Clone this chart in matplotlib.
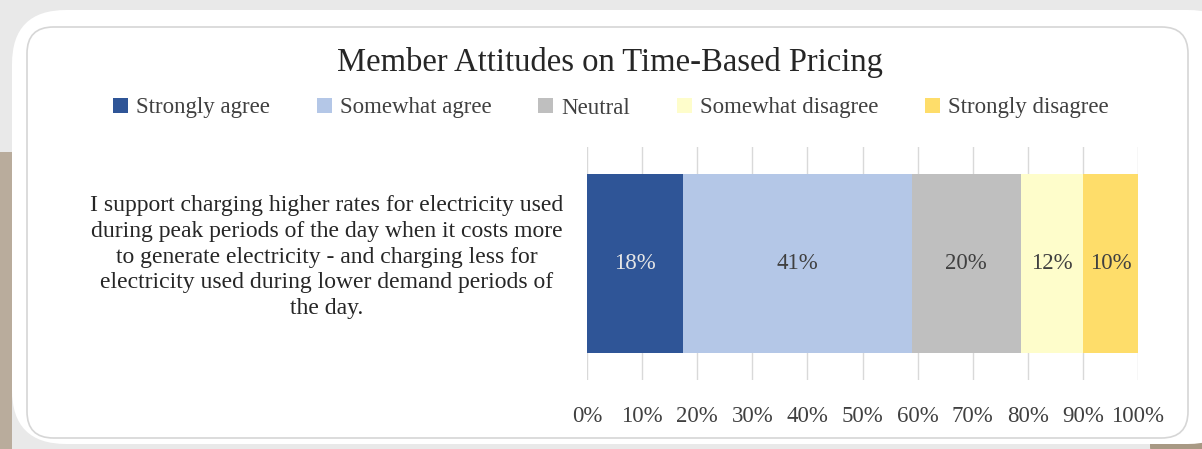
import matplotlib.pyplot as plt
from matplotlib.patches import FancyBboxPatch, Rectangle, Ellipse

plt.rcParams['font.family'] = ['Liberation Serif', 'DejaVu Serif']

title = "Member Attitudes on Time-Based Pricing"
question = ("I support charging higher rates for electricity used\n"
            "during peak periods of the day when it costs more\n"
            "to generate electricity - and charging less for\n"
            "electricity used during lower demand periods of\n"
            "the day.")
categories = ["Strongly agree", "Somewhat agree", "Neutral",
              "Somewhat disagree", "Strongly disagree"]
values = [17.5, 41.4, 19.8, 11.4, 9.9]
pct_labels = ["18%", "41%", "20%", "12%", "10%"]
colors = ["#2F5597", "#B4C7E7", "#BFBFBF", "#FEFDCB", "#FEDD6A"]
label_colors = ["#E6E6E6", "#404040", "#404040", "#404040", "#404040"]
xticks = list(range(0, 101, 10))

W, H = 1202, 449
fig = plt.figure(figsize=(W / 100, H / 100), dpi=100)
fig.patch.set_facecolor("#E9E9E9")


def fx(px):
    return px / W


def fy(py):
    return 1 - py / H


# decorative frame behind the chart
fig.patches.append(Rectangle((0, 0), fx(12), fy(152), transform=fig.transFigure,
                             facecolor="#B9AC9C", edgecolor="none", zorder=0))
fig.patches.append(Ellipse((fx(1200), fy(445)), fx(100), 0.22, transform=fig.transFigure,
                           facecolor="#A89984", edgecolor="none", zorder=0))
fig.patches.append(FancyBboxPatch((fx(12), fy(444)), fx(1230), fy(10) - fy(444),
                                  boxstyle="round,pad=0,rounding_size=0.045",
                                  mutation_aspect=W / H,
                                  transform=fig.transFigure, facecolor="white",
                                  edgecolor="none", zorder=1))
fig.patches.append(FancyBboxPatch((fx(27), fy(438)), fx(1161), fy(27) - fy(438),
                                  boxstyle="round,pad=0,rounding_size=0.022",
                                  mutation_aspect=W / H,
                                  transform=fig.transFigure, facecolor="none",
                                  edgecolor="#D6D6D6", linewidth=1.2, zorder=2))

ax = fig.add_axes([fx(587), fy(380), fx(1138) - fx(587), fy(147) - fy(380)])
ax.set_zorder(3)
ax.patch.set_alpha(0)

left = 0
for cat, v, c, lab, lc in zip(categories, values, colors, pct_labels, label_colors):
    ax.barh(0, v, left=left, height=0.77, color=c, label=cat, zorder=2)
    ax.text(left + v / 2, 0, lab, ha="center", va="center", fontsize=16.5, color=lc, zorder=3)
    left += v

ax.set_xlim(0, 100)
ax.set_ylim(-0.5, 0.5)
ax.set_xticks(xticks)
ax.set_xticklabels([f"{t}%" for t in xticks], fontsize=16.5, color="#404040")
ax.set_yticks([])
ax.tick_params(axis="both", length=0)
ax.tick_params(axis="x", pad=19)
ax.grid(axis="x", color="#D9D9D9", linewidth=1, zorder=0)
for s in ax.spines.values():
    s.set_visible(False)

# category label sits a little above the bar centre, as in the source
fig.text(fx(563), fy(257), question, ha="right", va="center", multialignment="center",
         fontsize=17, color="#262626", linespacing=1.31, zorder=4)

fig.text(fx(610), fy(62), title, ha="center", va="center", fontsize=23.5, color="#262626", zorder=4)

handles, labs = ax.get_legend_handles_labels()
fig.legend(handles, labs, loc="center", bbox_to_anchor=(fx(611), fy(108)), ncol=5,
           frameon=False, fontsize=16.5, handlelength=0.65, handleheight=0.65,
           handletextpad=0.35, columnspacing=2.05, labelcolor="#404040")

fig.savefig("out.png", dpi=100, facecolor=fig.get_facecolor())
